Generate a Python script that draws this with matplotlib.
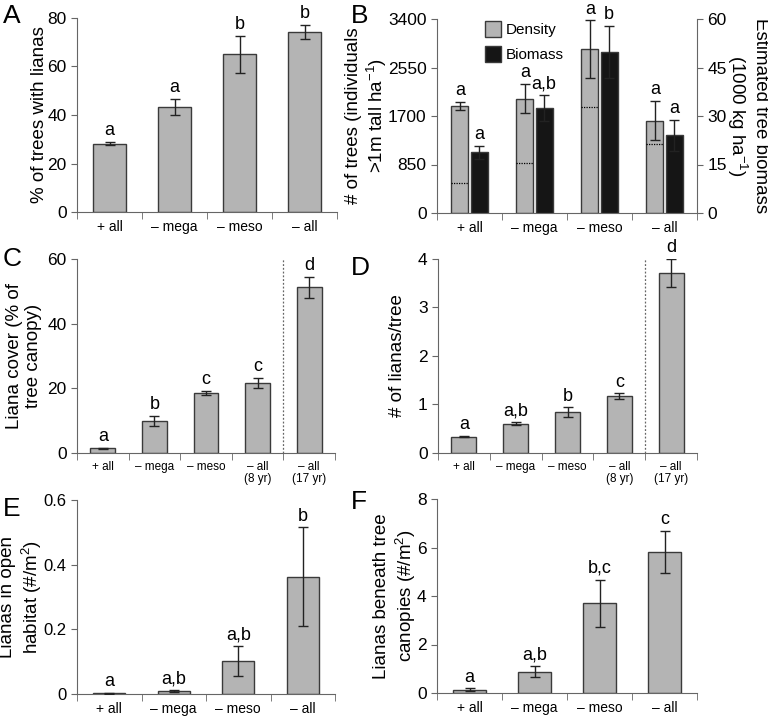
import numpy as np
import matplotlib
matplotlib.use('Agg')
import matplotlib.pyplot as plt
from matplotlib.patches import Patch

plt.rcParams['font.family'] = ['Liberation Sans', 'DejaVu Sans']
plt.rcParams['mathtext.default'] = 'regular'

# 데이터
cats4 = ['+ all', '– mega', '– meso', '– all']
cats5 = ['+ all', '– mega', '– meso', '– all\n(8 yr)', '– all\n(17 yr)']

a_val = [28.2, 43.5, 65.0, 74.3]
a_err = [0.7, 3.3, 7.5, 2.8]
a_let = ['a', 'a', 'b', 'b']

b_dens = [1878, 2006, 2869, 1621]
b_dens_err = [67, 250, 508, 341]
b_dens_line = [525, 869, 1860, 1207]
b_dens_let = ['a', 'a', 'a', 'a']
b_bio = [18.8, 32.4, 49.9, 24.1]
b_bio_err = [2.0, 4.0, 8.0, 4.8]
b_bio_let = ['a', 'a,b', 'b', 'a']

c_val = [1.5, 9.8, 18.5, 21.6, 51.2]
c_err = [0.2, 1.6, 0.7, 1.6, 3.2]
c_let = ['a', 'b', 'c', 'c', 'd']

d_val = [0.34, 0.60, 0.84, 1.17, 3.71]
d_err = [0.02, 0.03, 0.10, 0.06, 0.29]
d_let = ['a', 'a,b', 'b', 'c', 'd']

e_val = [0.002, 0.009, 0.101, 0.363]
e_err = [0.001, 0.004, 0.046, 0.152]
e_let = ['a', 'a,b', 'a,b', 'b']

f_val = [0.14, 0.88, 3.71, 5.81]
f_err = [0.05, 0.22, 0.97, 0.86]
f_let = ['a', 'a,b', 'b,c', 'c']

GREY = '#b4b4b4'
EDGE = '#3a3a3a'
SPINE = '#666666'


def style_ax(ax, cats, xfs=10):
    n = len(cats)
    for s in ['top', 'right']:
        ax.spines[s].set_visible(False)
    for s in ['left', 'bottom']:
        ax.spines[s].set_color(SPINE)
    ax.set_xlim(-0.5, n - 0.5)
    ax.set_xticks(range(n))
    ax.set_xticklabels(cats, fontsize=xfs, linespacing=1.0)
    ax.set_xticks(np.arange(n + 1) - 0.5, minor=True)
    ax.tick_params(axis='x', which='major', length=0, pad=6)
    ax.tick_params(axis='x', which='minor', length=5, color=SPINE)
    ax.tick_params(axis='y', length=4, color=SPINE, labelsize=12.5)


def bars(ax, x, vals, errs, lets, w=0.5, color=GREY):
    ax.bar(x, vals, w, color=color, edgecolor=EDGE, linewidth=1.0, zorder=2)
    ax.errorbar(x, vals, yerr=errs, fmt='none', ecolor='#222222',
                elinewidth=1.0, capsize=3.5, capthick=1.0, zorder=3)
    for xi, v, e, l in zip(x, vals, errs, lets):
        ax.annotate(l, (xi, v + e), xytext=(0, 2), textcoords='offset points',
                    ha='center', va='bottom', fontsize=13, annotation_clip=False)


def ylab(ax, text, xpos, rot=90, ls=1.15):
    ax.set_ylabel(text, fontsize=13.5, linespacing=ls, rotation=rot,
                  va='center', ha='center')
    ax.yaxis.set_label_coords(xpos, 0.5)


fig = plt.figure(figsize=(7.68, 7.16), dpi=100)
W = 260 / 768
H = 194 / 716

# A
axA = fig.add_axes([77 / 768, 1 - 212 / 716, W, H])
style_ax(axA, cats4)
bars(axA, np.arange(4), a_val, a_err, a_let)
axA.set_ylim(0, 80)
axA.set_yticks([0, 20, 40, 60, 80])
ylab(axA, '% of trees with lianas', -0.146)

# B
axB = fig.add_axes([437 / 768, 1 - 213 / 716, W, H])
style_ax(axB, cats4)
axB2 = axB.twinx()
for s in ['top', 'left', 'bottom']:
    axB2.spines[s].set_visible(False)
axB2.spines['right'].set_color(SPINE)
axB2.tick_params(axis='y', length=4, color=SPINE, labelsize=12.5)
xg = np.arange(4)
bw = 0.26
off = 0.148
bars(axB, xg - off, b_dens, b_dens_err, b_dens_let, w=bw)
axB.hlines(b_dens_line, xg - off - bw / 2, xg - off + bw / 2, colors='black',
           linestyles=(0, (1, 1)), linewidth=0.9, zorder=3)
bars(axB2, xg + off, b_bio, b_bio_err, b_bio_let, w=bw, color='#151515')
axB.set_ylim(0, 3400)
axB.set_yticks([0, 850, 1700, 2550, 3400])
axB2.set_ylim(0, 60)
axB2.set_yticks([0, 15, 30, 45, 60])
ylab(axB, '# of trees (individuals\n>1m tall ha$^{-1}$)', -0.27)
ylab(axB2, 'Estimated tree biomass\n(1000 kg ha$^{-1}$)', 1.193, rot=270)
axB.legend(handles=[Patch(facecolor=GREY, edgecolor=EDGE, label='Density'),
                    Patch(facecolor='#151515', edgecolor=EDGE, label='Biomass')],
           loc='upper left', bbox_to_anchor=(0.13, 1.06), frameon=False,
           fontsize=11, handlelength=1.1, handleheight=1.2,
           handletextpad=0.3, labelspacing=0.6)

# C
axC = fig.add_axes([77 / 768, 1 - 453 / 716, 258 / 768, H])
style_ax(axC, cats5, xfs=8.5)
bars(axC, np.arange(5), c_val, c_err, c_let, w=0.48)
axC.axvline(3.5, color='#666666', linestyle=(0, (1.5, 1.5)), linewidth=0.9)
axC.set_ylim(0, 60)
axC.set_yticks([0, 20, 40, 60])
ylab(axC, 'Liana cover (% of\ntree canopy)', -0.205)

# D
axD = fig.add_axes([438 / 768, 1 - 453 / 716, 259 / 768, H])
style_ax(axD, cats5, xfs=8.5)
bars(axD, np.arange(5), d_val, d_err, d_let, w=0.48)
axD.axvline(3.5, color='#666666', linestyle=(0, (1.5, 1.5)), linewidth=0.9)
axD.set_ylim(0, 4)
axD.set_yticks([0, 1, 2, 3, 4])
ylab(axD, '# of lianas/tree', -0.158)

# E
axE = fig.add_axes([77 / 768, 1 - 694 / 716, 258 / 768, H])
style_ax(axE, cats4)
bars(axE, np.arange(4), e_val, e_err, e_let)
axE.set_ylim(0, 0.6)
axE.set_yticks([0, 0.2, 0.4, 0.6])
axE.set_yticklabels(['0', '0.2', '0.4', '0.6'])
axE.tick_params(axis='y', labelsize=12)
ylab(axE, 'Lianas in open\nhabitat (#/m$^2$)', -0.215, ls=1.2)

# F
axF = fig.add_axes([437 / 768, 1 - 693 / 716, W, H])
style_ax(axF, cats4)
bars(axF, np.arange(4), f_val, f_err, f_let)
axF.set_ylim(0, 8)
axF.set_yticks([0, 2, 4, 6, 8])
ylab(axF, 'Lianas beneath tree\ncanopies (#/m$^2$)', -0.16, ls=1.2)

# 패널 문자
for lab, x, y in [('A', 0.004, 0.978), ('B', 0.457, 0.978), ('C', 0.004, 0.638),
                  ('D', 0.457, 0.626), ('E', 0.004, 0.289), ('F', 0.457, 0.299)]:
    fig.text(x, y, lab, fontsize=19, va='center', ha='left')

fig.savefig('out.png', dpi=100)
